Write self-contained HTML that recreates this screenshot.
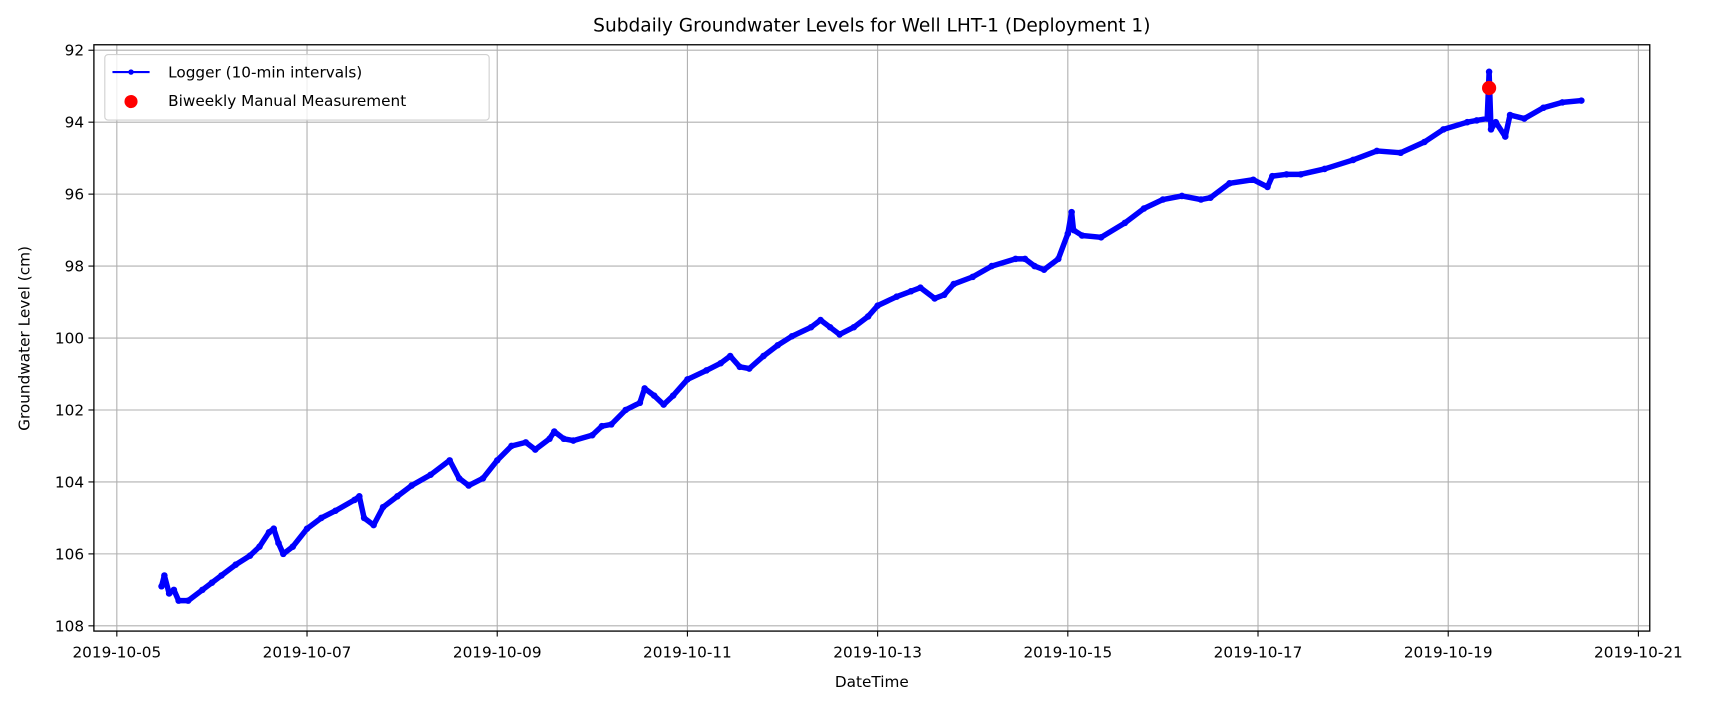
<!DOCTYPE html>
<html><head><meta charset="utf-8"><style>
body{margin:0;background:#fff;}
svg text{font-family:"DejaVu Sans","Liberation Sans",sans-serif;}
</style></head><body>
<svg width="1712" height="705" viewBox="0 0 1568 645.7" preserveAspectRatio="none" xmlns="http://www.w3.org/2000/svg">
</svg>
<script>
// days since 2019-10-05 00:00
const loggerDays = [0.47,0.5,0.55,0.6,0.65,0.75,0.9,1.0,1.1,1.25,1.4,1.5,1.6,1.65,1.7,1.75,1.85,2.0,2.15,2.3,2.5,2.55,2.6,2.7,2.8,2.95,3.1,3.3,3.5,3.6,3.7,3.85,4.0,4.15,4.3,4.4,4.55,4.6,4.7,4.8,5.0,5.1,5.2,5.35,5.5,5.55,5.65,5.75,5.85,6.0,6.2,6.35,6.45,6.55,6.65,6.8,6.95,7.1,7.3,7.4,7.5,7.6,7.75,7.9,8.0,8.2,8.35,8.45,8.6,8.7,8.8,9.0,9.2,9.45,9.55,9.65,9.75,9.9,10.0,10.04,10.06,10.15,10.35,10.6,10.8,11.0,11.2,11.4,11.5,11.7,11.95,12.1,12.15,12.3,12.45,12.7,13.0,13.25,13.5,13.75,13.95,14.2,14.3,14.41,14.43,14.45,14.5,14.6,14.65,14.8,15.0,15.2,15.4];
const loggerValues = [106.9,106.6,107.1,107.0,107.3,107.3,107.0,106.8,106.6,106.3,106.05,105.8,105.4,105.3,105.7,106.0,105.8,105.3,105.0,104.8,104.5,104.4,105.0,105.2,104.7,104.4,104.1,103.8,103.4,103.9,104.1,103.9,103.4,103.0,102.9,103.1,102.8,102.6,102.8,102.85,102.7,102.45,102.4,102.0,101.8,101.4,101.6,101.85,101.6,101.15,100.9,100.7,100.5,100.8,100.85,100.5,100.2,99.95,99.7,99.5,99.7,99.9,99.7,99.4,99.1,98.85,98.7,98.6,98.9,98.8,98.5,98.3,98.0,97.8,97.8,98.0,98.1,97.8,97.1,96.5,97.0,97.15,97.2,96.8,96.4,96.15,96.05,96.15,96.1,95.7,95.6,95.8,95.5,95.45,95.45,95.3,95.05,94.8,94.85,94.55,94.2,94.0,93.95,93.9,92.6,94.2,94.0,94.4,93.8,93.9,93.6,93.45,93.4];
const manualDays = [14.43];
const manualValues = [93.05];
const xTickLabels = ["2019-10-05","2019-10-07","2019-10-09","2019-10-11","2019-10-13","2019-10-15","2019-10-17","2019-10-19","2019-10-21"];
const yTickValues = [92,94,96,98,100,102,104,106,108];

const L=86,R=1511,T=41,B=578;
const xs=d=>107+d*87.1;
const ys=v=>46+(v-92)*32.95;
const NS="http://www.w3.org/2000/svg";
const svg=document.querySelector('svg');
function mk(tag,attrs,parent){const e=document.createElementNS(NS,tag);for(const k in attrs)e.setAttribute(k,attrs[k]);(parent||svg).appendChild(e);return e;}

xTickLabels.forEach((lab,i)=>{
  const x=xs(i*2);
  const g=mk('line',{x1:x,x2:x,y1:T,y2:B,stroke:'#b0b0b0','stroke-width':1});
  
  
  const t=mk('line',{x1:x,x2:x,y1:B,y2:B+5,stroke:'#000','stroke-width':1});
  
  
  const tx=mk('text',{x:x,y:B+24,'text-anchor':'middle','font-size':14});
  tx.textContent=lab;
  
  
});
yTickValues.forEach(v=>{
  const y=ys(v);
  const g=mk('line',{x1:L,x2:R,y1:y,y2:y,stroke:'#b0b0b0','stroke-width':1});
  
  
  const t=mk('line',{x1:L-5,x2:L,y1:y,y2:y,stroke:'#000','stroke-width':1});
  
  
  const tx=mk('text',{x:L-9,y:y+5,'text-anchor':'end','font-size':14});
  tx.textContent=v;
  
  
});

const pts=loggerDays.map((d,i)=>xs(d)+','+ys(loggerValues[i])).join(' ');
const pl=mk('polyline',{points:pts,fill:'none',stroke:'#0000ff','stroke-width':5,'stroke-linejoin':'round','stroke-linecap':'round'});


loggerDays.forEach((d,i)=>{
  const c=mk('circle',{cx:xs(d),cy:ys(loggerValues[i]),r:3,fill:'#0000ff'});
  
  
});
manualDays.forEach((d,i)=>{
  const c=mk('circle',{cx:xs(d),cy:ys(manualValues[i]),r:6.5,fill:'#ff0000'});
  
  
});

const fr=mk('rect',{x:L,y:T,width:R-L,height:B-T,fill:'none',stroke:'#000','stroke-width':1.2});



const tt=mk('text',{x:(L+R)/2,y:29,'text-anchor':'middle','font-size':17});
tt.textContent='Subdaily Groundwater Levels for Well LHT-1 (Deployment 1)';


const xl=mk('text',{x:(L+R)/2,y:629,'text-anchor':'middle','font-size':14});
xl.textContent='DateTime';


const yl=mk('text',{x:0,y:0,'text-anchor':'middle','font-size':14,transform:'translate(27,310) rotate(-90)'});
yl.textContent='Groundwater Level (cm)';



const lg=mk('g',{});


mk('rect',{x:96,y:50,width:352,height:60,rx:3,fill:'#fff','fill-opacity':0.8,stroke:'#d0d0d0'},lg);
const l1=mk('line',{x1:103,x2:137,y1:66,y2:66,stroke:'#0000ff','stroke-width':2},lg);


mk('circle',{cx:120,cy:66,r:2.5,fill:'#0000ff'},lg);
const t1=mk('text',{x:154,y:71,'font-size':14},lg);
t1.textContent='Logger (10-min intervals)';


const c2=mk('circle',{cx:120,cy:93,r:6,fill:'#ff0000'},lg);


const t2=mk('text',{x:154,y:97,'font-size':14},lg);
t2.textContent='Biweekly Manual Measurement';


</script>
</body></html>
